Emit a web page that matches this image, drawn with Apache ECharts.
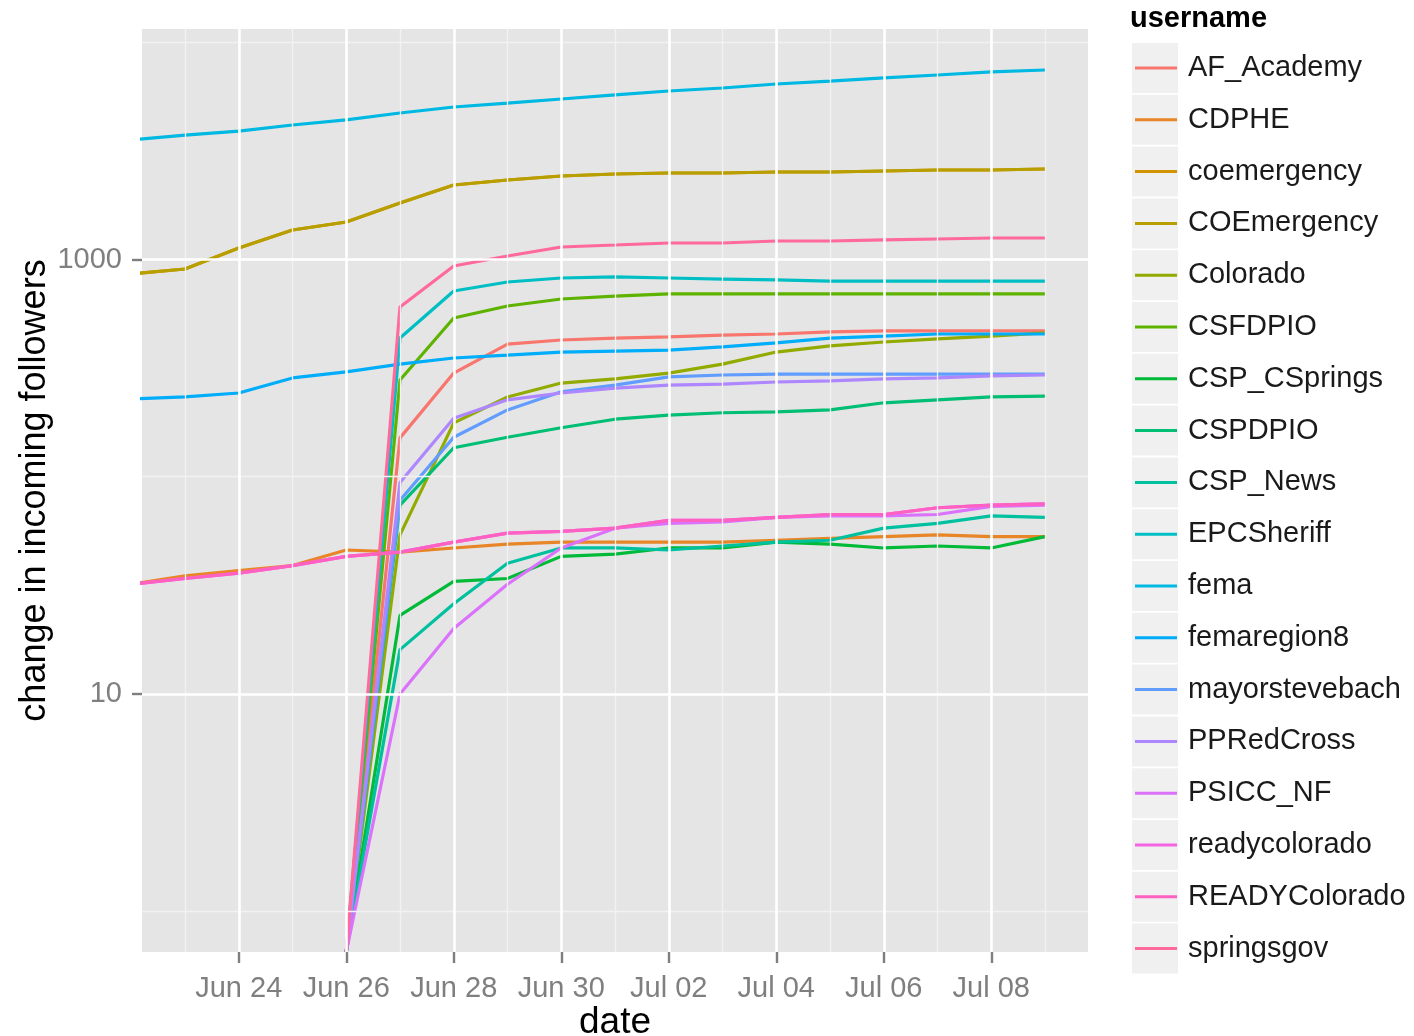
<!DOCTYPE html>
<html>
<head>
<meta charset="utf-8">
<title>Change in incoming followers</title>
<script src="https://cdn.jsdelivr.net/npm/echarts@6/dist/echarts.min.js"></script>
<style>
  html, body { margin: 0; padding: 0; background: #ffffff; }
  #chart { width: 1414px; height: 1036px; }
</style>
</head>
<body>
<div id="chart"></div>
<script>
// Observation dates (daily, 2012)
const dates = [
  '2012-06-22', '2012-06-23', '2012-06-24', '2012-06-25', '2012-06-26', '2012-06-27',
  '2012-06-28', '2012-06-29', '2012-06-30', '2012-07-01', '2012-07-02', '2012-07-03',
  '2012-07-04', '2012-07-05', '2012-07-06', '2012-07-07', '2012-07-08', '2012-07-09'
];

// Change in incoming followers per account, one value per date (null = not tracked yet)
const AF_Academy     = [null, null, null, null, 0, 151, 300, 408, 426, 435, 440, 449, 454, 464, 469, 469, 469, 469];
const CDPHE          = [32, 35, 37, 39, 46, 45, 47, 49, 50, 50, 50, 50, 51, 52, 53, 54, 53, 53];
const coemergency    = [858, 904, 1130, 1367, 1488, 1820, 2203, 2322, 2423, 2475, 2502, 2502, 2528, 2528, 2555, 2583, 2583, 2610];
const COEmergency    = [858, 904, 1130, 1367, 1488, 1820, 2203, 2322, 2423, 2475, 2502, 2502, 2528, 2528, 2555, 2583, 2583, 2610];
const Colorado       = [null, null, null, null, 0, 54, 177, 233, 270, 282, 300, 330, 375, 400, 417, 431, 444, 459];
const CSFDPIO        = [null, null, null, null, 0, 279, 538, 611, 658, 679, 694, 694, 694, 694, 694, 694, 694, 694];
const CSP_CSprings   = [null, null, null, null, 0, 23, 33, 34, 43, 44, 47, 47, 50, 49, 47, 48, 47, 53];
const CSPDPIO        = [null, null, null, null, 0, 74, 136, 152, 168, 184, 192, 197, 199, 203, 219, 226, 233, 235];
const CSP_News       = [null, null, null, null, 0, 16, 26, 40, 47, 47, 46, 48, 50, 51, 58, 61, 66, 65];
const EPCSheriff     = [null, null, null, null, 0, 435, 716, 788, 822, 831, 822, 813, 805, 796, 796, 796, 796, 796];
const fema           = [3550, 3740, 3900, 4160, 4390, 4725, 5035, 5250, 5480, 5720, 5965, 6160, 6425, 6630, 6850, 7070, 7300, 7455];
const femaregion8    = [228, 233, 243, 285, 304, 330, 352, 363, 375, 379, 383, 396, 413, 435, 444, 454, 454, 454];
const mayorstevebach = [null, null, null, null, 0, 78, 152, 203, 246, 264, 288, 294, 297, 297, 297, 297, 297, 297];
const PPRedCross     = [null, null, null, null, 0, 94, 186, 226, 243, 256, 264, 267, 273, 276, 282, 285, 291, 294];
const PSICC_NF       = [null, null, null, null, 0, 10, 20, 32, 47, 58, 61, 62, 65, 66, 66, 67, 73, 74];
const readycolorado  = [32, 34, 36, 39, 43, 45, 50, 55, 56, 58, 63, 63, 65, 67, 67, 72, 74, 75];
const READYColorado  = [32, 34, 36, 39, 43, 45, 50, 55, 56, 58, 63, 63, 65, 67, 67, 72, 74, 75];
const springsgov     = [null, null, null, null, 0, 605, 933, 1038, 1142, 1166, 1191, 1191, 1217, 1217, 1230, 1243, 1256, 1256];

const usernames = [
  'AF_Academy', 'CDPHE', 'coemergency', 'COEmergency', 'Colorado', 'CSFDPIO',
  'CSP_CSprings', 'CSPDPIO', 'CSP_News', 'EPCSheriff', 'fema', 'femaregion8',
  'mayorstevebach', 'PPRedCross', 'PSICC_NF', 'readycolorado', 'READYColorado', 'springsgov'
];
const seriesValues = [
  AF_Academy, CDPHE, coemergency, COEmergency, Colorado, CSFDPIO,
  CSP_CSprings, CSPDPIO, CSP_News, EPCSheriff, fema, femaregion8,
  mayorstevebach, PPRedCross, PSICC_NF, readycolorado, READYColorado, springsgov
];

// Axis breaks
const xMajorTicks = ['2012-06-24', '2012-06-26', '2012-06-28', '2012-06-30', '2012-07-02', '2012-07-04', '2012-07-06', '2012-07-08'];
const xMinorTicks = ['2012-06-23', '2012-06-25', '2012-06-27', '2012-06-29', '2012-07-01', '2012-07-03', '2012-07-05', '2012-07-07', '2012-07-09'];
const yMajorTicks = [10, 1000];
const yMinorTicks = [1, 100, 10000];

const MONTHS = ['Jan', 'Feb', 'Mar', 'Apr', 'May', 'Jun', 'Jul', 'Aug', 'Sep', 'Oct', 'Nov', 'Dec'];
const DAY = 86400000;
const FONT = '"Liberation Sans", Arial, Helvetica, sans-serif';

// Date string -> epoch milliseconds (local midnight)
function ts(s) {
  const p = s.split('-').map(Number);
  return new Date(p[0], p[1] - 1, p[2]).getTime();
}

// Axis extents (5% padding around the Jun 23 - Jul 09 window on x)
const X_MIN = ts('2012-06-23') - 0.8 * DAY;
const X_MAX = ts('2012-07-09') + 0.8 * DAY;
const Y_MIN = 0.649;
const Y_MAX = 11510;
// A zero change has no place on a log scale; it is drawn on the axis floor.
const FLOOR = Y_MIN;

// HCL -> sRGB (CIE-LUV, D65), as used for the default discrete hue palette
function hcl(h, c, l) {
  const WHITE_u = 0.1978398, WHITE_v = 0.4683363;
  const hr = h * Math.PI / 180;
  const U = c * Math.cos(hr), V = c * Math.sin(hr);
  const Y = (l > 7.999592) ? Math.pow((l + 16) / 116, 3) : l / 903.3;
  const u = U / (13 * l) + WHITE_u;
  const v = V / (13 * l) + WHITE_v;
  const X = 9.0 * Y * u / (4 * v);
  const Z = -X / 3 - 5 * Y + 3 * Y / v;
  const g = t => (t > 0.00304 ? 1.055 * Math.pow(t, 1 / 2.4) - 0.055 : 12.92 * t);
  const ch = t => {
    const n = Math.round(Math.max(0, Math.min(1, g(t))) * 255);
    return n.toString(16).padStart(2, '0');
  };
  const R = 3.240479 * X - 1.537150 * Y - 0.498535 * Z;
  const G = -0.969256 * X + 1.875992 * Y + 0.041556 * Z;
  const B = 0.055648 * X - 0.204043 * Y + 1.057311 * Z;
  return '#' + ch(R) + ch(G) + ch(B);
}
const palette = usernames.map((_, i) => hcl(15 + i * (360 / usernames.length), 100, 65));

const lineSeries = usernames.map((name, i) => ({
  name: name,
  type: 'line',
  symbol: 'none',
  showSymbol: false,
  clip: true,
  z: 2,
  color: palette[i],
  lineStyle: { width: 3.2, color: palette[i] },
  emphasis: { disabled: true },
  data: seriesValues[i]
    .map((v, j) => (v == null ? null : [ts(dates[j]), v > 0 ? v : FLOOR]))
    .filter(p => p !== null)
}));

// Panel grid lines
const minorStyle = { color: '#F2F2F2', width: 1.3, type: 'solid' };
const majorStyle = { color: '#FFFFFF', width: 2.6, type: 'solid' };
const gridSeries = {
  name: 'panel-grid',
  type: 'line',
  data: [],
  z: 1,
  silent: true,
  markLine: {
    silent: true,
    animation: false,
    symbol: ['none', 'none'],
    label: { show: false },
    emphasis: { disabled: true },
    lineStyle: { type: 'solid' },
    data: [].concat(
      xMinorTicks.map(d => ({ xAxis: ts(d), lineStyle: minorStyle })),
      yMinorTicks.map(v => ({ yAxis: v, lineStyle: minorStyle })),
      xMajorTicks.map(d => ({ xAxis: ts(d), lineStyle: majorStyle })),
      yMajorTicks.map(v => ({ yAxis: v, lineStyle: majorStyle }))
    )
  }
};

// Legend key backgrounds
const LEGEND_TOP = 53, LEGEND_PITCH = 51.8;
const keyBoxes = usernames.map((_, i) => ({
  type: 'rect',
  z: 0,
  silent: true,
  shape: { x: 1132, y: LEGEND_TOP + 15 - 25 + i * LEGEND_PITCH, width: 46, height: 50 },
  style: { fill: '#F0F0F0' }
}));

const chart = echarts.init(document.getElementById('chart'), null, { renderer: 'canvas' });
chart.setOption({
  animation: false,
  backgroundColor: '#ffffff',
  title: {
    text: 'username',
    left: 1130,
    top: 4,
    padding: 0,
    textStyle: { fontFamily: FONT, fontSize: 29, fontWeight: 'bold', color: '#000000' }
  },
  grid: {
    left: 142, right: 326, top: 29, bottom: 84,
    outerBoundsMode: 'none',
    containLabel: false,
    show: true, backgroundColor: '#E5E5E5', borderWidth: 0
  },
  xAxis: {
    type: 'value',
    min: X_MIN,
    max: X_MAX,
    name: 'date',
    nameLocation: 'middle',
    nameMoveOverlap: false,
    nameGap: 52,
    nameTextStyle: { fontFamily: FONT, fontSize: 37, color: '#000000' },
    axisLine: { show: false },
    axisTick: {
      show: true, length: 11, customValues: xMajorTicks.map(ts),
      lineStyle: { color: '#7F7F7F', width: 2.4 }
    },
    axisLabel: {
      customValues: xMajorTicks.map(ts),
      margin: 22,
      fontFamily: FONT, fontSize: 29, color: '#7F7F7F',
      formatter: function (value) {
        const d = new Date(value);
        return MONTHS[d.getMonth()] + ' ' + String(d.getDate()).padStart(2, '0');
      }
    },
    splitLine: { show: false },
    minorSplitLine: { show: false }
  },
  yAxis: {
    type: 'log',
    logBase: 10,
    min: Y_MIN,
    max: Y_MAX,
    name: 'change in incoming followers',
    nameLocation: 'middle',
    nameMoveOverlap: false,
    nameGap: 89,
    nameTextStyle: { fontFamily: FONT, fontSize: 36, color: '#000000' },
    axisLine: { show: false },
    axisTick: {
      show: true, length: 10, customValues: yMajorTicks,
      lineStyle: { color: '#7F7F7F', width: 2.4 }
    },
    axisLabel: {
      customValues: yMajorTicks,
      margin: 20,
      fontFamily: FONT, fontSize: 29, color: '#7F7F7F',
      formatter: function (v) { return String(Math.round(v)); }
    },
    splitLine: { show: false },
    minorSplitLine: { show: false }
  },
  legend: {
    data: usernames,
    orient: 'vertical',
    left: 1135,
    top: LEGEND_TOP,
    padding: 0,
    icon: 'rect',
    itemWidth: 42,
    itemHeight: 3,
    itemGap: LEGEND_PITCH - 30,
    selectedMode: false,
    textStyle: {
      fontFamily: FONT, fontSize: 29, color: '#1A1A1A',
      lineHeight: 30, padding: [0, 0, 0, 6]
    }
  },
  graphic: keyBoxes,
  series: [gridSeries].concat(lineSeries)
});
</script>
</body>
</html>
